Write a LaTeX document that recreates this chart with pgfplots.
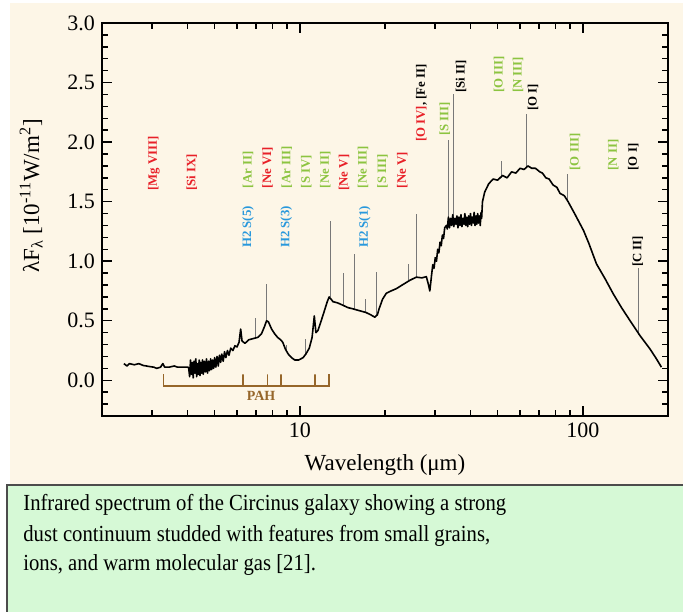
\documentclass[border=0pt]{standalone}
\usepackage{fontspec}
\setmainfont{Liberation Serif}
\usepackage{pgfplots}
\pgfplotsset{compat=1.18}

\definecolor{bgcream}{RGB}{253,246,231}
\definecolor{capgreen}{RGB}{214,249,214}
\definecolor{lred}{RGB}{232,32,40}
\definecolor{lgreen}{RGB}{140,196,64}
\definecolor{lblue}{RGB}{40,152,220}
\definecolor{pahbrown}{RGB}{150,102,42}
\definecolor{linegray}{RGB}{120,120,120}

% rotated line label: colour, x, y (bottom), text
\newcommand{\lab}[4]{\node[rotate=90,anchor=west,inner sep=0pt,text=#1,
  font=\fontsize{6.4}{7}\selectfont\bfseries] at (axis cs:#2,#3) {#4};}

\begin{document}
\begin{tikzpicture}
\path[use as bounding box] (-51pt,-97.5pt) rectangle (290.5pt,208pt);
\fill[white] (-51pt,-97.5pt) rectangle (290.5pt,208pt);
\fill[bgcream] (-46pt,-34.5pt) rectangle (290.5pt,206.5pt);
\draw[fill=capgreen,draw=black!70,line width=1pt] (-47.5pt,-34.5pt) rectangle (293pt,-100pt);
\begin{scope}[every node/.style={anchor=base west,inner sep=0pt,xscale=0.9,
    font=\fontsize{11.5}{14}\selectfont}]
\node at (-39.5pt,-47pt) {Infrared spectrum of the Circinus galaxy showing a strong};
\node at (-39.5pt,-62.8pt) {dust continuum studded with features from small grains,};
\node at (-39.5pt,-77pt) {ions, and warm molecular gas [21].};
\end{scope}

\begin{axis}[
    at={(0,0)}, anchor=south west,
    scale only axis,
    width=283pt, height=196.5pt,
    xmode=log,
    xmin=2, xmax=200,
    ymin=-0.3, ymax=3.0,
    xtick={10,100},
    minor xtick={2,3,4,5,6,7,8,9,20,30,40,50,60,70,80,90,200},
    log ticks with fixed point,
    ytick={0,0.5,1,1.5,2,2.5,3},
    minor ytick={-0.2,-0.1,0.1,0.2,0.3,0.4,0.6,0.7,0.8,0.9,1.1,1.2,1.3,1.4,1.6,1.7,1.8,1.9,2.1,2.2,2.3,2.4,2.6,2.7,2.8,2.9},
    yticklabel style={/pgf/number format/.cd,fixed,fixed zerofill,precision=1},
    /pgf/number format/assume math mode=true,
    tick label style={font=\fontsize{11}{13}\selectfont},
    label style={font=\fontsize{11.5}{13}\selectfont},
    major tick length=5pt, minor tick length=3pt,
    tick style={black,line width=0.7pt},
    axis line style={line width=0.8pt},
    unbounded coords=jump,
    xlabel={Wavelength (μm)},
    ylabel={λF\textsubscript{λ} [10\textsuperscript{-11}W/m\textsuperscript{2}]},
    xlabel style={at={(axis description cs:0.5,-0.125)},anchor=center},
    ylabel style={at={(axis description cs:-0.125,0.56)},anchor=center},
    clip=false,
  ]

% emission lines
\addplot[linegray, line width=0.5pt] coordinates {
  (6.99,0.35) (6.99,0.52) (6.99,nan)
  (7.65,0.50) (7.65,0.81) (7.65,nan)
  (8.99,0.24) (8.99,0.30) (8.99,nan)
  (10.51,0.22) (10.51,0.35) (10.51,nan)
  (12.81,0.70) (12.81,1.34) (12.81,nan)
  (14.32,0.63) (14.32,0.90) (14.32,nan)
  (15.55,0.60) (15.55,1.06) (15.55,nan)
  (17.03,0.57) (17.03,0.68) (17.03,nan)
  (18.71,0.55) (18.71,0.91) (18.71,nan)
  (24.3,0.84) (24.3,0.98) (24.3,nan)
  (25.89,0.87) (25.89,1.40) (25.89,nan)
  (33.48,1.32) (33.48,2.02) (33.48,nan)
  (34.81,1.33) (34.81,2.40) (34.81,nan)
  (51.8,1.70) (51.8,1.84) (51.8,nan)
  (63.18,1.79) (63.18,2.235) (63.18,nan)
  (88.36,1.50) (88.36,1.73) (88.36,nan)
  (157.7,0.38) (157.7,0.94)
};

% spectrum
\addplot[black, line width=0.8pt, line join=round] coordinates {
  (2.39,0.14) (2.45,0.12) (2.5,0.14) (2.6,0.13) (2.7,0.14) (2.79,0.125)
  (2.95,0.115) (3.05,0.11) (3.12,0.10) (3.22,0.11) (3.28,0.14) (3.33,0.11)
  (3.45,0.11) (3.6,0.12) (3.7,0.11) (3.9,0.11) (4.03,0.11)
  (4.05,0.10) (4.08,0.03) (4.11,0.17) (4.14,0.05) (4.17,0.15) (4.20,0.02)
  (4.23,0.16) (4.26,0.06) (4.29,0.18) (4.32,0.03) (4.35,0.14) (4.38,0.05)
  (4.41,0.17) (4.44,0.04) (4.47,0.15) (4.50,0.06) (4.53,0.17) (4.56,0.05)
  (4.60,0.16) (4.64,0.07) (4.68,0.18) (4.72,0.06) (4.76,0.16) (4.80,0.08)
  (4.84,0.18) (4.88,0.09) (4.92,0.17) (4.96,0.10) (5.00,0.19) (5.05,0.11)
  (5.10,0.20) (5.15,0.12) (5.20,0.21) (5.25,0.15) (5.30,0.22) (5.36,0.16)
  (5.42,0.24) (5.48,0.19) (5.55,0.25) (5.62,0.21) (5.70,0.27) (5.8,0.25)
  (5.9,0.29) (6.0,0.28) (6.1,0.32) (6.18,0.43) (6.25,0.33) (6.4,0.31)
  (6.6,0.34) (6.84,0.35) (7.1,0.36) (7.32,0.39) (7.5,0.45) (7.63,0.50)
  (7.75,0.49) (7.95,0.43) (8.15,0.39) (8.35,0.36) (8.55,0.34) (8.7,0.32)
  (8.9,0.26) (9.1,0.22) (9.35,0.19) (9.6,0.17) (9.9,0.17) (10.27,0.19)
  (10.5,0.22) (10.8,0.27) (11.05,0.36) (11.25,0.54) (11.4,0.40) (11.6,0.42)
  (11.9,0.50) (12.2,0.58) (12.5,0.66) (12.7,0.70) (12.9,0.68) (13.1,0.66)
  (13.6,0.65) (14.2,0.63) (14.8,0.61) (15.4,0.60) (16.2,0.585) (17.1,0.57)
  (17.8,0.55) (18.4,0.53) (18.8,0.55) (19.06,0.60) (19.6,0.68) (20.2,0.73)
  (21.0,0.75) (21.96,0.77) (23.0,0.80) (24.5,0.84) (25.8,0.866) (27.0,0.86)
  (28.0,0.87) (28.5,0.80) (28.8,0.75) (29.2,0.88) (29.5,0.97) (29.8,0.94)
  (30.1,1.03) (30.4,1.00) (30.7,1.10) (31.0,1.07) (31.3,1.16) (31.6,1.13)
  (31.9,1.22) (32.2,1.19) (32.5,1.28) (32.96,1.30)
  (33.2,1.27) (33.5,1.37) (33.8,1.28) (34.1,1.36) (34.4,1.30) (34.7,1.39)
  (35.0,1.29) (35.3,1.36) (35.6,1.31) (35.9,1.38) (36.2,1.28) (36.5,1.37)
  (36.8,1.30) (37.1,1.39) (37.4,1.29) (37.7,1.36) (38.0,1.31) (38.3,1.40)
  (38.6,1.30) (38.9,1.37) (39.2,1.29) (39.5,1.38) (39.8,1.31) (40.1,1.40)
  (40.4,1.30) (40.7,1.37) (41.0,1.32) (41.3,1.41) (41.6,1.30) (41.9,1.38)
  (42.2,1.31) (42.5,1.40) (42.8,1.32) (43.1,1.38) (43.4,1.30) (43.7,1.41)
  (43.9,1.36)
  (44.2,1.50) (45,1.58) (46.5,1.65) (48.2,1.69) (50,1.68) (52,1.72)
  (54,1.70) (56,1.75) (58,1.74) (60,1.78) (62,1.77) (64,1.80) (66,1.78)
  (68,1.78) (70.5,1.75) (72,1.74) (74,1.70) (76,1.69) (78.5,1.64) (81,1.62)
  (83,1.57) (86,1.55) (88.7,1.50) (94,1.39) (100.6,1.257)
  (105,1.15) (111.7,0.978) (120,0.85) (128,0.727) (137,0.61) (146.6,0.503)
  (159,0.377) (172.5,0.265) (182,0.18) (189.6,0.11)
};

% PAH bracket
\addplot[pahbrown, line width=0.8pt] coordinates {
  (3.3,0.05) (3.3,-0.05) (6.3,-0.05) (6.3,0.05) (6.3,-0.05)
  (7.7,-0.05) (7.7,0.05) (7.7,-0.05) (8.6,-0.05) (8.6,0.05) (8.6,-0.05)
  (11.3,-0.05) (11.3,0.05) (11.3,-0.05) (12.7,-0.05) (12.7,0.05)
};
\node[text=pahbrown,font=\fontsize{7}{8}\selectfont\bfseries] at (axis cs:7.3,-0.13) {PAH};

% line labels
\lab{lred}{3.05}{1.59}{[Mg VIII]}
\lab{lred}{4.15}{1.59}{[Si IX]}
\lab{lgreen}{6.56}{1.61}{[Ar II]}
\lab{lred}{7.69}{1.61}{[Ne VI]}
\lab{lgreen}{9.0}{1.61}{[Ar III]}
\lab{lgreen}{10.54}{1.61}{[S IV]}
\lab{lgreen}{12.31}{1.61}{[Ne II]}
\lab{lred}{14.34}{1.59}{[Ne V]}
\lab{lgreen}{16.74}{1.61}{[Ne III]}
\lab{lgreen}{19.6}{1.61}{[S III]}
\lab{lred}{23.0}{1.61}{[Ne V]}
\lab{lblue}{6.56}{1.11}{H2 S(5)}
\lab{lblue}{8.95}{1.11}{H2 S(3)}
\lab{lblue}{16.97}{1.11}{H2 S(1)}
\lab{lred}{26.9}{2.0}{[O IV]\textcolor{black}{, [Fe II]}}
\lab{lgreen}{32.5}{2.05}{[S III]}
\lab{black}{37.1}{2.41}{[Si II]}
\lab{lgreen}{50.6}{2.41}{[O III]}
\lab{lgreen}{59.0}{2.41}{[N III]}
\lab{black}{66.7}{2.26}{[O I]}
\lab{lgreen}{93.8}{1.76}{[O III]}
\lab{lgreen}{128}{1.76}{[N II]}
\lab{black}{150.7}{1.76}{[O I]}
\lab{black}{156.3}{0.95}{[C II]}
\end{axis}
\end{tikzpicture}
\end{document}
